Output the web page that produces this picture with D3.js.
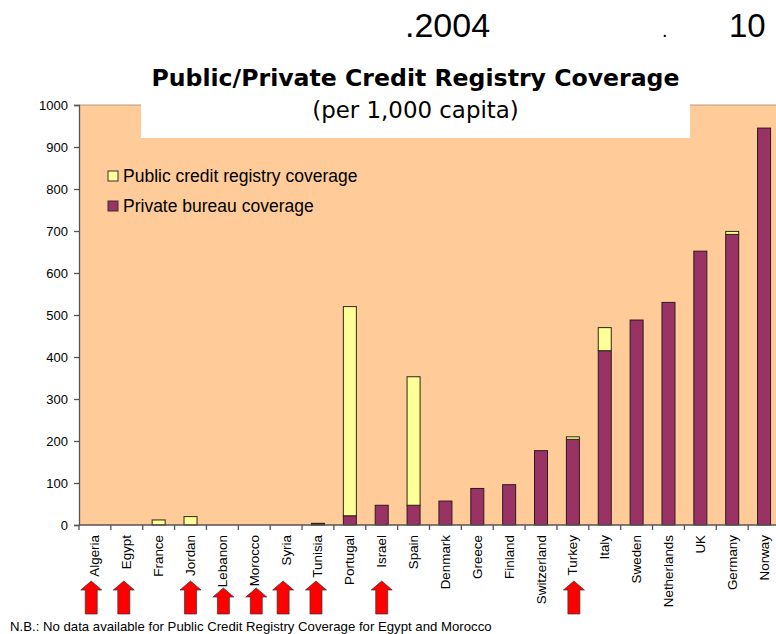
<!DOCTYPE html>
<html><head><meta charset="utf-8">
<script src="https://cdnjs.cloudflare.com/ajax/libs/d3/7.8.5/d3.min.js"></script>
<style>html,body{margin:0;padding:0;background:#fff;overflow:hidden}svg{display:block}text{font-family:"Liberation Sans",Arial,sans-serif;fill:#000}</style>
</head><body><svg id="c" width="776" height="634"></svg>
<script>
const countries=["Algeria","Egypt","France","Jordan","Lebanon","Morocco","Syria","Tunisia","Portugal","Israel","Spain","Denmark","Greece","Finland","Switzerland","Turkey","Italy","Sweden","Netherlands","UK","Germany","Norway"];
const privateBureau=[0,0,0,0,0,0,0,3,22,47,47,57,87,96,177,204,415,488,530,652,692,945];
const publicRegistry=[0,0,12,20,0,0,0,1,498,0,306,0,0,0,0,6,55,0,0,0,7,0];
const yTicks=[0,100,200,300,400,500,600,700,800,900,1000];
const arrowCountries=["Algeria","Egypt","Jordan","Lebanon","Morocco","Syria","Tunisia","Israel","Turkey"];
const arrowShift=[-3.7,-3,0,1,2,-3,-2,0,1];
const arrowTop=[581,581,581,588,588,581,581,581,581];
const legendLabels=["Public credit registry coverage","Private bureau coverage"];
const COL_PUB="#ffff99",COL_PRI="#993366",BG="#ffcc99";

const svg=d3.select("#c");
const L=79,R=780,T=105,B=525;
const bandX=d3.scaleBand().domain(countries).range([L,R]);
const y=d3.scaleLinear().domain([0,1000]).range([B,T]);

svg.append("rect").attr("x",L).attr("y",T).attr("width",R-L).attr("height",B-T).attr("fill",BG);
svg.append("line").attr("x1",L).attr("x2",R).attr("y1",T).attr("y2",T).attr("stroke","#b09a85").attr("stroke-width",1);

const bw=13;
const cx=c=>bandX(c)+bandX.bandwidth()/2;
const g=svg.append("g");
countries.forEach((c,i)=>{
  if(privateBureau[i]>0) g.append("rect").attr("x",cx(c)-bw/2).attr("width",bw).attr("y",y(privateBureau[i])).attr("height",y(0)-y(privateBureau[i])).attr("fill",COL_PRI).attr("stroke","#2a1a20").attr("stroke-width",1);
  if(publicRegistry[i]>0) g.append("rect").attr("x",cx(c)-bw/2).attr("width",bw).attr("y",y(privateBureau[i]+publicRegistry[i])).attr("height",y(0)-y(publicRegistry[i])).attr("fill",COL_PUB).attr("stroke","#2a2a10").attr("stroke-width",1);
});

// axes
const ya=d3.axisLeft(y).tickValues(yTicks).tickFormat(d3.format("d")).tickSize(5).tickPadding(6);
const yg=svg.append("g").attr("transform",`translate(${L},0)`).call(ya);
yg.selectAll("text").style("font-size","13px");
yg.selectAll("line,path").attr("stroke","#555").attr("stroke-width",1.3);
const xg=svg.append("g").attr("transform",`translate(0,${B})`);
xg.append("line").attr("x1",L).attr("x2",R).attr("stroke","#555").attr("stroke-width",1.3);
xg.selectAll(".t").data(d3.range(0,countries.length+1)).join("line").attr("x1",i=>L+i*bandX.step()).attr("x2",i=>L+i*bandX.step()).attr("y1",0).attr("y2",5).attr("stroke","#555").attr("stroke-width",1.3);
xg.selectAll("text").data(countries).join("text")
  .attr("transform",c=>`translate(${cx(c)+4.5},10) rotate(-90)`)
  .attr("text-anchor","end").style("font-size","13.4px").text(c=>c);

// white box + titles
svg.append("rect").attr("x",141).attr("y",60).attr("width",549).attr("height",78).attr("fill","#fff");
svg.append("text").attr("x",415.5).attr("y",86).attr("text-anchor","middle").style("font-family","'DejaVu Sans'").style("font-weight","bold").style("font-size","23.6px").text("Public/Private Credit Registry Coverage");
svg.append("text").attr("x",415.5).attr("y",118).attr("text-anchor","middle").style("font-family","'DejaVu Sans'").style("font-size","22.9px").text("(per 1,000 capita)");
svg.append("text").attr("x",405).attr("y",37).style("font-size","34px").text(".2004");
svg.append("text").attr("x",662).attr("y",37).style("font-size","20px").text(".");
svg.append("text").attr("x",729).attr("y",37).style("font-size","33px").text("10");

// legend
legendLabels.forEach((t,i)=>{
  const ly=176+i*30;
  svg.append("rect").attr("x",108).attr("y",ly-5).attr("width",10).attr("height",10).attr("fill",i?COL_PRI:COL_PUB).attr("stroke","#333").attr("stroke-width",1);
  svg.append("text").attr("x",123).attr("y",ly+6).style("font-size","17.5px").text(t);
});

// arrows
const arrow=d3.line();
arrowCountries.forEach((c,i)=>{
  const m=cx(c)+arrowShift[i],t=arrowTop[i],b=614,hw=10.5,sw=6,hh=9;
  svg.append("path").attr("d",arrow([[m,t],[m+hw,t+hh],[m+sw,t+hh],[m+sw,b],[m-sw,b],[m-sw,t+hh],[m-hw,t+hh]])+"Z")
   .attr("fill","#ff0000").attr("stroke","#333").attr("stroke-width",0.7);
});

svg.append("text").attr("x",10).attr("y",631).style("font-size","13.2px").text("N.B.: No data available for Public Credit Registry Coverage for Egypt and Morocco");
</script></body></html>
